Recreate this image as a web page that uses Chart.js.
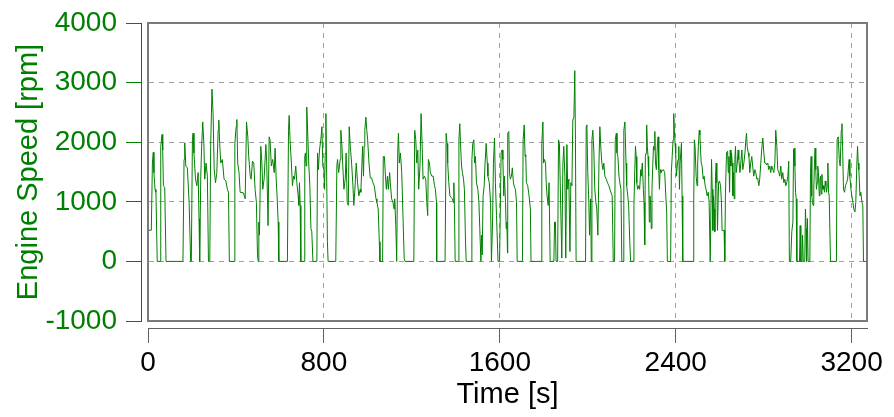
<!DOCTYPE html>
<html><head><meta charset="utf-8">
<script src="https://cdn.jsdelivr.net/npm/chart.js@4/dist/chart.umd.min.js"></script>
<style>html,body{margin:0;padding:0;background:#fff;}canvas{display:block;}</style>
</head><body>
<canvas id="c" width="894" height="417"></canvas>
<script>
// ---- data (time in s, engine speed in rpm) ----
const seg1Time = [0,15,20,24,27,32,36,42,55,58,64,67,70,76,82,159,164,167,172,179,187,194,197,202,205,209,216,222,228,232,235,240,244,249,254,258,264,270,275,281,285,291,296,301,307,313,319,322,326,331,338,346,354,361,366,370,392,395,401,404,408,414,419,434,442,448,454,458,465,469,475,481,487,493,498,501,504,507,513,518,522];
const seg1Rpm  = [523,523,1650,1830,1490,1210,1160,0,0,1930,2130,1870,1270,1240,0,0,1710,1990,1600,1570,990,0,0,2040,2150,1820,1380,1270,1490,716,0,1430,1930,2340,1980,1380,1650,1430,0,0,1930,2890,2480,1540,1320,1490,2200,2370,1980,1650,1710,1380,1350,1210,1160,0,0,1980,2260,2380,1650,1490,1160,1150,1050,2340,2090,1760,1430,1380,1680,1650,1210,990,110,0,660,440,1930,1650,1210];

const seg2Time = [528,536,540,546,551,555,561,567,574,578,583,587,592,595,634,639,642,646,652,657,662,666,672,677,683,686,689,692,695,710,713,716,719,722,727,731,736,741,745,750,768,771,775,780,786,791,795,800,803,806,809,812,816,819,854,859,862,867,874,877,882,886,891,897,901,906,911,915,920,926,932,936,941,947,953,959,965,968,973,976,980,983,986,991,995,999,1005,1011,1017,1023,1029,1037,1041,1047,1052,1055,1067,1070];
const seg2Rpm  = [1380,1960,1650,600,2090,2040,1600,1710,1490,1900,1380,1100,660,0,0,2200,2450,2040,1650,1270,1430,1380,1600,1320,1100,940,1320,940,0,0,1760,1820,1600,2590,2090,1650,1270,550,500,0,0,1820,1540,1870,2040,2260,1600,1540,1210,1820,2480,1650,330,0,0,1600,1710,1490,1710,2200,1930,1600,1210,1380,1820,990,940,2260,1930,1650,1270,940,1210,1650,1320,1100,1210,1160,1650,1930,1430,1930,2200,2420,2200,2040,1650,1400,1400,1320,1270,1050,990,880,330,0,0,1760];

const seg3Time = [1075,1080,1084,1089,1093,1099,1102,1108,1114,1119,1122,1127,1131,1136,1139,1143,1148,1154,1160,1165,1169,1209,1213,1218,1222,1227,1231,1237,1242,1247,1251,1257,1263,1268,1272,1275,1280,1284,1291,1297,1303,1307,1312,1313,1351,1356,1360,1363,1368,1373,1379,1385,1388,1391,1394,1397,1411,1414,1418,1421,1426,1430,1435,1439,1444,1447,1470,1473,1477,1482,1485,1489,1494,1500,1505,1509,1514,1517,1520,1524,1529,1533,1538,1543,1546,1552,1558,1562,1567,1571,1576,1580,1585,1592,1599,1606,1610,1614,1618];
const seg3Rpm  = [1760,1430,1210,1430,1210,1490,1320,1050,990,880,1050,600,0,1870,2150,1650,1820,1490,716,55,0,0,2200,2040,1650,1870,1210,1600,2480,1930,1380,1430,1380,990,770,1710,1650,1490,1430,1430,1270,1210,990,0,0,2150,1980,1650,1320,1100,1070,1050,990,1320,830,0,0,2040,2310,2010,1600,1490,1380,1210,330,0,0,1710,1980,2040,1650,1760,1320,1210,990,550,0,440,110,1100,1270,1650,1980,1650,1430,1320,990,0,660,1650,2070,1320,770,0,0,1820,1870,1710,1100];

const seg4Time = [1621,1626,1629,1632,1635,1636,1641,1644,1648,1653,1657,1662,1667,1671,1676,1679,1703,1706,1711,1715,1718,1721,1727,1733,1739,1742,1788,1791,1796,1799,1803,1808,1811,1815,1820,1824,1829,1846,1849,1853,1856,1863,1867,1871,1876,1882,1887,1891,1896,1900,1905,1909,1914,1919,1923,1928,1932,1937,1941,1944,1947,1990,1993,1996,2000,2005,2008,2013,2016,2019,2023,2028,2032,2037,2041,2046,2051,2055,2060,2064,2069,2073,2078,2084,2090,2096,2101,2105,2111,2116,2122,2125,2130,2133,2137,2142,2146,2151,2155,2161,2164,2169,2174];
const seg4Rpm  = [1430,990,550,660,140,2150,2180,1490,1380,1430,1570,1320,1240,1210,990,0,0,2040,2290,1760,1790,1320,1270,1100,880,0,0,1980,2340,1650,1710,1650,1320,1100,940,1320,0,0,660,660,0,0,2040,1980,1100,55,1650,1930,1430,55,1960,1210,1380,165,1320,1270,2370,2420,3200,2040,0,0,2260,2290,1490,990,440,1050,0,2040,2200,1820,1210,990,880,440,1650,2260,1870,1650,1540,1650,1430,1380,1320,1270,1210,1160,1100,0,0,2040,2150,1820,1760,1430,1320,1210,0,0,2200,2340,1650];

const seg5Time = [2177,2182,2186,2191,2195,2206,2210,2214,2217,2220,2223,2227,2232,2236,2241,2244,2248,2253,2256,2259,2262,2265,2268,2271,2274,2277,2280,2283,2286,2289,2292,2296,2299,2302,2305,2308,2312,2317,2320,2323,2326,2329,2333,2338,2344,2350,2355,2359,2362,2377,2380,2384,2388,2391,2394,2397,2400,2403,2408,2411,2414,2417,2420,2423,2426,2429,2432,2479,2482,2485,2488,2493,2497,2500,2503,2507,2510,2513,2516,2520,2525,2529,2534,2538,2543,2548,2552,2557,2560,2563,2566,2569,2572,2575,2578,2581,2584,2587,2590,2595,2599,2604,2608,2611,2620,2623,2626,2631,2636,2639,2642,2645,2648,2651,2654,2657,2660,2663,2666,2669,2672,2675,2680,2684,2687,2692,2696,2701,2705,2710,2715,2719,2722,2725,2730];
const seg5Rpm  = [1270,1100,940,330,0,0,940,1540,1930,1760,1320,1210,1270,1210,1540,1430,1650,1210,990,275,1760,1820,2290,1930,1760,1430,660,1100,990,550,1210,1650,1930,1870,2180,1650,1540,1980,2090,1540,1210,1540,1490,1520,1540,1490,1100,830,0,0,1490,1760,2040,2480,2200,1980,1820,1430,1650,1710,1930,1210,1650,1650,1980,1100,0,0,1050,2040,1930,1430,1270,1650,1930,2200,2120,1870,1650,1600,1380,1430,1270,1210,1100,1160,990,0,0,1710,1210,520,1100,880,500,1430,1650,1320,520,1320,1350,1270,990,520,520,0,1100,1820,1850,1490,1760,1160,1870,1600,1820,1650,1100,1490,1050,1710,1930,1490,1650,1870,1710,1490,1650,1870,1540,1650,1820,2040,2150,1930,1820];

const seg6Time = [2733,2737,2741,2746,2750,2755,2760,2764,2769,2773,2778,2782,2787,2791,2796,2801,2805,2810,2814,2819,2823,2828,2832,2837,2842,2846,2851,2855,2860,2864,2869,2873,2878,2882,2887,2892,2896,2901,2905,2910,2914,2917,2923,2928,2933,2936,2939,2942,2945,2948,2951,2963,2966,2969,2974,2977,2980,2987,2990,2993,2995,2999,3002,3010,3013,3016,3019,3022,3025,3028,3031,3034,3037,3040,3043,3046,3049,3053,3056,3059,3062,3065,3068,3071,3074,3077,3080,3083,3086,3089,3092,3095,3098,3101,3104,3131,3134,3139,3144,3148,3153,3156,3159,3163,3168,3172,3177,3182,3186,3189,3192,3197,3201,3206,3210,3215,3219,3224,3227,3230,3233,3238,3242,3247,3251,3254,3270];
const seg6Rpm  = [1760,1490,1650,1760,1600,1430,1540,1490,1380,1400,1270,1380,1650,1870,2070,1820,1650,1650,1620,1650,1540,1600,1490,1600,1540,1490,1650,2200,1930,1540,1490,1430,1600,1380,1490,1320,1380,1270,1320,1430,1680,0,0,500,660,1870,1900,1600,1160,1050,0,0,600,0,0,440,0,0,880,550,0,720,0,0,1490,1760,1100,990,940,1210,1650,1900,1540,1210,1320,1600,1490,1100,1380,1430,1130,1460,1210,1270,1210,1160,1350,1270,1160,1270,1650,1160,1100,1100,0,0,2040,2090,1710,1600,2200,2310,1930,1210,1160,1270,1320,1380,1600,1710,1430,1210,1100,990,880,830,990,1650,1930,1650,1540,1100,1160,990,940,0,0];

const xTickValues = [0, 800, 1600, 2400, 3200];
const yTickValues = [-1000, 0, 1000, 2000, 3000, 4000];
const xTitle = 'Time [s]';
const yTitle = 'Engine Speed [rpm]';

const timeSec = [].concat(seg1Time, seg2Time, seg3Time, seg4Time, seg5Time, seg6Time);
const engineRpm = [].concat(seg1Rpm, seg2Rpm, seg3Rpm, seg4Rpm, seg5Rpm, seg6Rpm);
const points = timeSec.map((t, i) => ({x: t, y: engineRpm[i]}));

const FONT = "'Liberation Sans', Arial, sans-serif";
const GREEN = '#008000';
const GRID = '#a0a0a0';

const framePlugin = {
  id: 'frame',
  afterDatasetsDraw(chart) {
    const {ctx, chartArea: a} = chart;
    ctx.save();
    ctx.strokeStyle = '#7a7a7a';
    ctx.lineWidth = 2;
    ctx.strokeRect(a.left, a.top, a.right - a.left, a.bottom - a.top);
    ctx.restore();
  }
};

new Chart(document.getElementById('c'), {
  type: 'line',
  data: {datasets: [{
    data: points, xAxisID: 'x', yAxisID: 'y',
    borderColor: GREEN, borderWidth: 1, pointRadius: 0, fill: false, tension: 0
  }]},
  options: {
    responsive: false, animation: false,
    plugins: {legend: {display: false}, tooltip: {enabled: false}},
    layout: {padding: {top: 19, right: 27, bottom: 0, left: 0}},
    scales: {
      x: {
        type: 'linear', position: 'bottom', weight: 1, min: 0, max: 3270,
        afterBuildTicks: s => { s.ticks = xTickValues.map(v => ({value: v})); },
        afterFit: s => { s.height = 89; },
        grid: {display: true, drawOnChartArea: true, color: GRID, lineWidth: 1,
               drawTicks: true, tickLength: 15, tickColor: '#606060', tickWidth: 1},
        border: {display: true, color: '#606060', width: 1, dash: [5, 5]},
        ticks: {color: '#000', font: {family: FONT, size: 28, lineHeight: 1}, padding: 6,
                maxRotation: 0, autoSkip: false, callback: v => String(v)},
        title: {display: true, text: xTitle, color: '#000',
                font: {family: FONT, size: 29, lineHeight: 1}, padding: {top: 3, bottom: 8}}
      },
      xGap: {
        type: 'linear', position: 'bottom', weight: 0, min: 0, max: 1, display: true,
        grid: {display: false}, ticks: {display: false}, border: {display: false},
        afterFit: s => { s.height = 7; }
      },
      y: {
        type: 'linear', position: 'left', weight: 1, min: -1000, max: 4000,
        afterBuildTicks: s => { s.ticks = yTickValues.map(v => ({value: v})); },
        afterFit: s => { s.width = 141; },
        grid: {display: true, drawOnChartArea: true, color: GRID, lineWidth: 1,
               drawTicks: true, tickLength: 15, tickColor: GREEN, tickWidth: 1},
        border: {display: true, color: GREEN, width: 1, dash: [5, 5]},
        ticks: {color: GREEN, font: {family: FONT, size: 28, lineHeight: 1}, padding: 9,
                callback: v => String(v)},
        title: {display: true, text: yTitle, color: GREEN,
                font: {family: FONT, size: 29, lineHeight: 1}, padding: {top: 14, bottom: 2}}
      },
      yGap: {
        type: 'linear', position: 'left', weight: 0, min: 0, max: 1, display: true,
        grid: {display: false}, ticks: {display: false}, border: {display: false},
        afterFit: s => { s.width = 7; }
      }
    }
  },
  plugins: [framePlugin]
});
</script>
</body></html>
